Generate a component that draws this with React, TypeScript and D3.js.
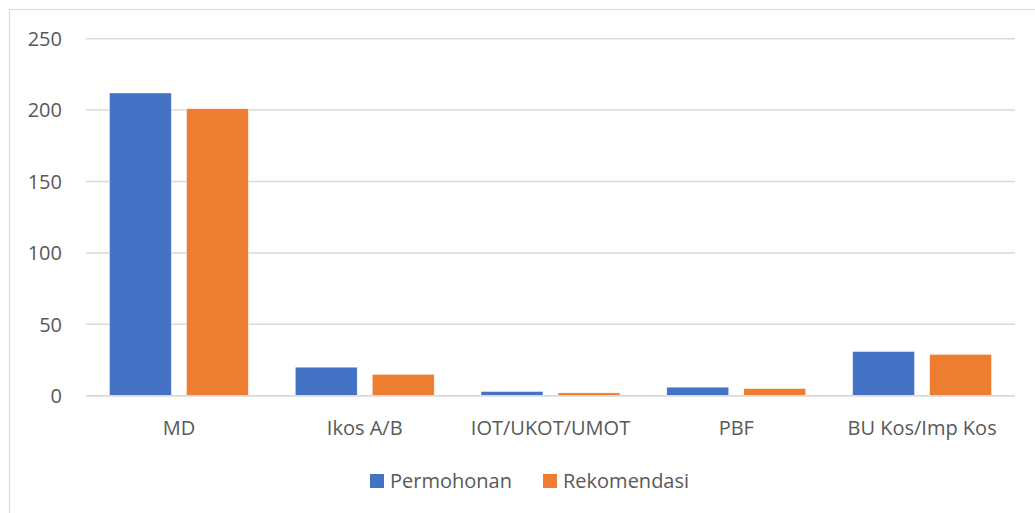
import React from 'react';
import * as d3 from 'd3';

const categories = ['MD', 'Ikos A/B', 'IOT/UKOT/UMOT', 'PBF', 'BU Kos/Imp Kos'];
const permohonan = [212, 20, 3, 6, 31];
const rekomendasi = [201, 15, 2, 5, 29];
const yTicks = [0, 50, 100, 150, 200, 250];

const seriesNames = ['Permohonan', 'Rekomendasi'];
const colors = ['#4472C4', '#ED7D31'];

const W = 1035;
const H = 513;
const font = '"Open Sans", "Noto Sans", sans-serif';

const App = () => {
  const x = d3.scaleBand().domain(categories).range([86, 1015]).paddingInner(0).paddingOuter(0);
  const x1 = d3.scaleBand().domain(seriesNames).range([0, x.bandwidth()]).paddingInner(0.195).paddingOuter(0.304);
  const y = d3.scaleLinear().domain([0, 250]).range([395.7, 38.7]);
  const series = [permohonan, rekomendasi];

  return (
    <svg width={W} height={H} style={{ position: 'absolute', left: 0, top: 0 }}>
      <rect x={0} y={0} width={W} height={H} fill="#fff" />
      <path d={`M9.5,${H} V9.5 H${W}`} fill="none" stroke="#D9D9D9" strokeWidth={1.2} />
      {yTicks.map(t => (
        <g key={t}>
          <line x1={86} x2={1015} y1={y(t)} y2={y(t)} stroke="#D9D9D9" strokeWidth={1.5} />
          <text x={62} y={y(t)} dy="0.36em" textAnchor="end" fontFamily={font} fontSize={20} fill="#595959">{t}</text>
        </g>
      ))}
      {categories.map((c, i) => (
        <g key={c} transform={`translate(${x(c)},0)`}>
          {series.map((s, j) => (
            <rect key={j} x={x1(seriesNames[j])} width={x1.bandwidth()} y={y(s[i])} height={y(0) - y(s[i])}
              fill={colors[j]} stroke="#fff" strokeWidth={0.5} />
          ))}
          <text x={x.bandwidth() / 2} y={435} textAnchor="middle" fontFamily={font} fontSize={20} fill="#595959">{c}</text>
        </g>
      ))}
      <line x1={86} x2={1015} y1={y(0)} y2={y(0)} stroke="#D9D9D9" strokeWidth={1.5} />
      {seriesNames.map((n, j) => (
        <g key={n} transform={`translate(${[370, 543][j]},474)`}>
          <rect width={14} height={14} fill={colors[j]} />
          <text x={20} y={7} dy="0.36em" fontFamily={font} fontSize={20} fill="#595959">{n}</text>
        </g>
      ))}
    </svg>
  );
};

export default App;
